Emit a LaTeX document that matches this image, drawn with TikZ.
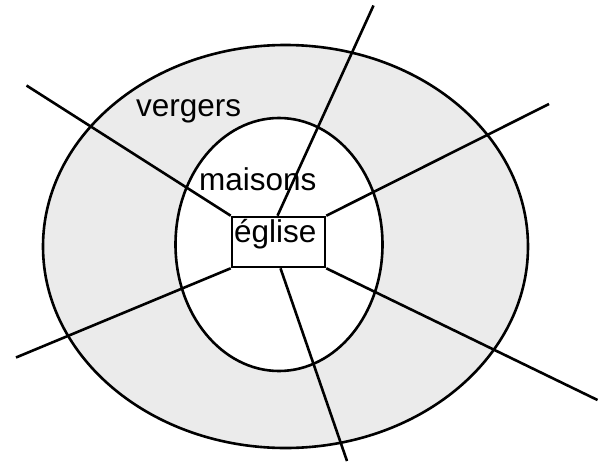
\documentclass[tikz,border=0pt]{standalone}
\usepackage{fontspec}
\setmainfont{Liberation Sans}
\usetikzlibrary{shapes.geometric}
\definecolor{orchard}{HTML}{EBEBEB}
\begin{document}
\begin{tikzpicture}[x=1pt,y=-1pt,
  ring/.style={ellipse,draw=black,line width=2.6pt,inner sep=0pt},
  road/.style={draw=black,line width=2.6pt},
  lbl/.style={anchor=base west,inner sep=0pt,font=\fontsize{31.5}{36}\selectfont}]
\useasboundingbox (0,0) rectangle (605,461);
\node[ring,fill=orchard,minimum width=485pt,minimum height=403pt] (outer) at (285.5,246.5) {};
\node[ring,fill=white,minimum width=207pt,minimum height=253pt] (inner) at (279,244.5) {};
\node[draw=black,line width=2.6pt,fill=white,minimum width=93pt,minimum height=50pt,inner sep=0pt] (eglise) at (278.5,242) {};
\coordinate (e1) at (26.5,85.5);
\coordinate (e2) at (373.5,5.5);
\coordinate (e3) at (549,104);
\coordinate (e4) at (16,357.5);
\coordinate (e5) at (347,461);
\coordinate (e6) at (597.5,400);
\draw[road] (eglise.north west) -- (e1);
\draw[road] ([xshift=-1pt]eglise.north) -- (e2);
\draw[road] (eglise.north east) -- (e3);
\draw[road] (eglise.south west) -- (e4);
\draw[road] ([xshift=2pt]eglise.south) -- (e5);
\draw[road] (eglise.south east) -- (e6);
\node[lbl] (tv) at (136,116) {vergers};
\node[lbl] (tm) at (199,190) {maisons};
\node[lbl] (te) at (234,242) {église};
\end{tikzpicture}
\end{document}
